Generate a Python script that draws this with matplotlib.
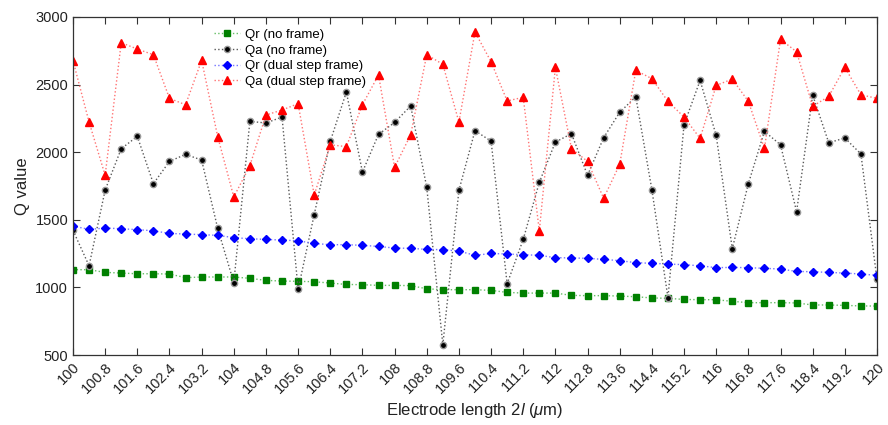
import numpy as np
import matplotlib
matplotlib.use('Agg')
import matplotlib.pyplot as plt

plt.rcParams['font.family'] = ['Liberation Sans', 'DejaVu Sans']
plt.rcParams['mathtext.fontset'] = 'custom'
plt.rcParams['mathtext.rm'] = 'Liberation Sans'
plt.rcParams['mathtext.it'] = 'Liberation Sans:italic'

# electrode length 2l (um), 100 to 120 in 0.4 steps
length = [round(100 + 0.4 * i, 1) for i in range(51)]

qr_no_frame = [1131, 1131, 1111, 1106, 1101, 1101, 1099, 1072, 1077, 1077,
               1077, 1067, 1052, 1047, 1045, 1042, 1032, 1022, 1020, 1015,
               1015, 1013, 990, 983, 983, 983, 978, 963, 958, 958,
               958, 941, 939, 939, 936, 931, 922, 919, 911, 909,
               909, 897, 887, 887, 887, 885, 870, 870, 867, 863, 862]

qa_no_frame = [1422, 1160, 1720, 2026, 2117, 1767, 1932, 1984, 1942, 1436,
               1035, 2228, 2216, 2260, 985, 1538, 2080, 2445, 1853, 2132,
               2220, 2342, 1740, 576, 1718, 2159, 2082, 1027, 1355, 1777,
               2075, 2137, 1829, 2107, 2295, 2410, 1723, 924, 2203, 2531,
               2124, 1286, 1767, 2154, 2055, 1560, 2423, 2070, 2105, 1987, 1059]

qr_dual = [1454, 1429, 1439, 1434, 1427, 1419, 1399, 1395, 1390, 1385,
           1368, 1360, 1355, 1350, 1345, 1325, 1316, 1316, 1311, 1303,
           1291, 1289, 1281, 1279, 1269, 1237, 1251, 1247, 1242, 1237,
           1220, 1218, 1215, 1207, 1198, 1183, 1178, 1173, 1168, 1160,
           1146, 1148, 1146, 1141, 1136, 1118, 1116, 1111, 1106, 1099, 1089]

qa_dual = [2677, 2223, 1829, 2810, 2763, 2721, 2398, 2351, 2679, 2115,
           1669, 1900, 2275, 2312, 2359, 1683, 2055, 2041, 2351, 2571,
           1888, 2129, 2721, 2650, 2223, 2889, 2669, 2379, 2406, 1417,
           2627, 2026, 1932, 1659, 1910, 2605, 2544, 2376, 2260, 2102,
           2494, 2541, 2376, 2028, 2834, 2743, 2339, 2413, 2627, 2425, 2398]

xticks = [round(100 + 0.8 * i, 1) for i in range(26)]
xticklabels = ['%g' % t for t in xticks]

fig = plt.figure(figsize=(8.88, 4.25), dpi=100)
ax = fig.add_axes([0.0822, 0.1647, 0.9054, 0.7953])

ax.plot(length, qr_no_frame, ls=':', lw=1, color=(0.4, 0.75, 0.4), marker='s',
        ms=4, mfc='green', mec='green', label='Qr (no frame)')
ax.plot(length, qa_no_frame, ls=':', lw=1, color='0.35', marker='o',
        ms=4.5, mfc='black', mec='0.6', label='Qa (no frame)')
ax.plot(length, qr_dual, ls=':', lw=1, color=(0.45, 0.45, 1.0), marker='D',
        ms=4, mfc='blue', mec='blue', label='Qr (dual step frame)')
ax.plot(length, qa_dual, ls=':', lw=1, color=(1.0, 0.45, 0.45), marker='^',
        ms=6, mfc='red', mec='red', label='Qa (dual step frame)')

ax.set_xlim(100, 120)
ax.set_ylim(500, 3000)
ax.set_xticks(xticks)
ax.set_xticklabels(xticklabels, rotation=45, ha='right', rotation_mode='anchor',
                   fontsize=10.5, color='#222222')
ax.set_yticks([500, 1000, 1500, 2000, 2500, 3000])
ax.tick_params(axis='y', labelsize=10.5, labelcolor='#222222')
ax.tick_params(direction='in', top=True, right=True, length=5, width=0.8, color='#333333')

for s in ax.spines.values():
    s.set_color('#333333')
    s.set_linewidth(0.9)

ax.set_xlabel('Electrode length 2$\\it{l}$ ($\\mu$m)', fontsize=12, color='#222222')
ax.set_ylabel('Q value', fontsize=12, color='#222222')

ax.legend(loc='upper left', bbox_to_anchor=(0.16, 1.0), frameon=False, fontsize=9.5,
          handlelength=2.0, handletextpad=0.4, labelspacing=0.25)

fig.savefig('out.png', dpi=100)
